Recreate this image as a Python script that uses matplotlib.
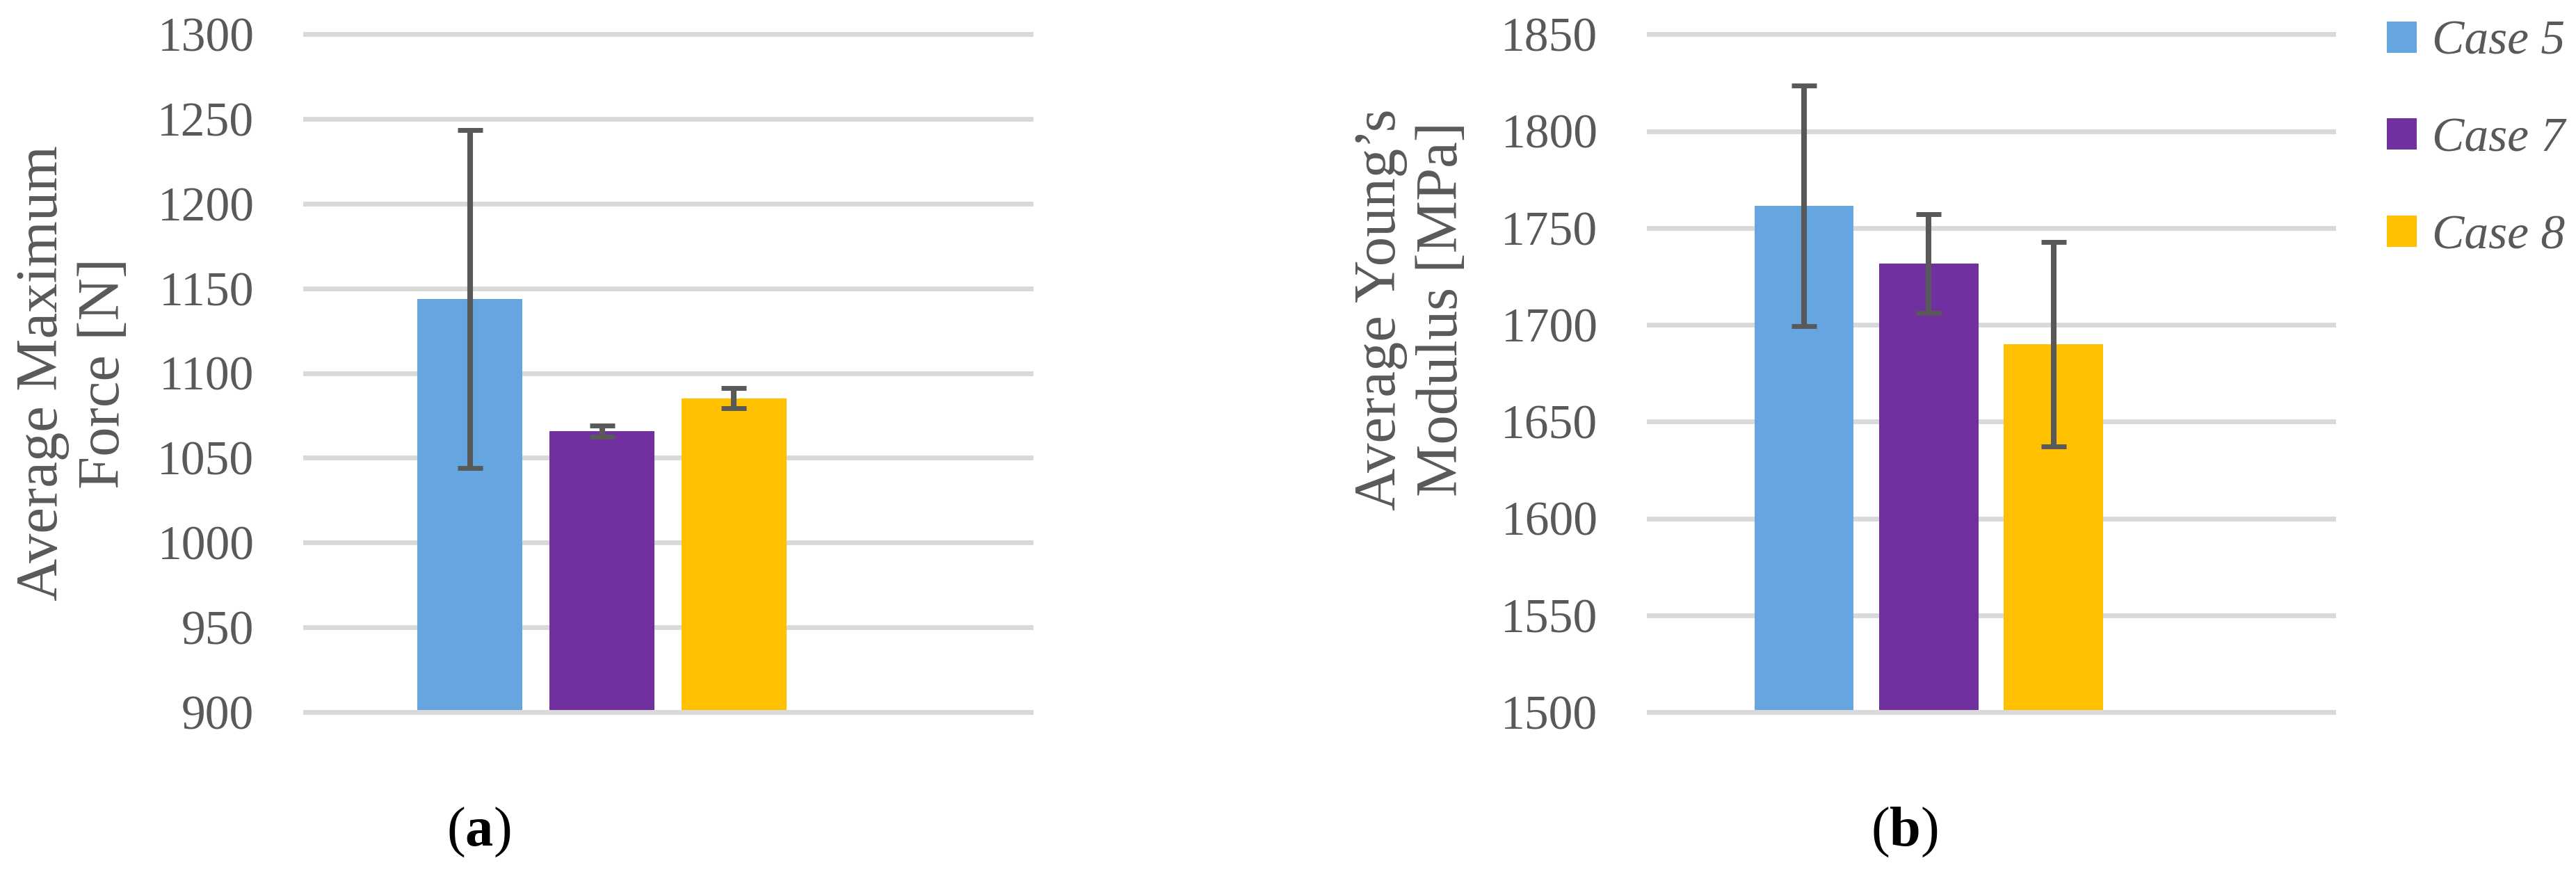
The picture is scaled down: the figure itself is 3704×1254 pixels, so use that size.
import numpy as np
import matplotlib
matplotlib.use("Agg")
import matplotlib.pyplot as plt
from matplotlib.font_manager import FontProperties

# ---------------- data ----------------
series = ["Case 5", "Case 7", "Case 8"]
force_mean = [1143.6, 1065.8, 1085.2]
force_err = [99.7, 3.4, 6.0]
modulus_mean = [1761.4, 1731.5, 1689.9]
modulus_err = [62.0, 25.5, 52.7]
force_ticks = [900, 950, 1000, 1050, 1100, 1150, 1200, 1250, 1300]
modulus_ticks = [1500, 1550, 1600, 1650, 1700, 1750, 1800, 1850]
force_label = "Average Maximum\nForce [N]"
modulus_label = "Average Young\u2019s\nModulus [MPa]"
panel_labels = ["a", "b"]

# ---------------- style ----------------
colors = ["#65A6E0", "#7030A0", "#FFC000"]
GRID = "#D9D9D9"
TXT = "#595959"
SERIF = "Liberation Serif"
n_slots = 4          # the cluster reserves room for four series
bar_w = 0.795
half_span = 2.745

plt.rcParams["font.family"] = [SERIF, "DejaVu Serif"]
plt.rcParams["mathtext.fontset"] = "custom"
plt.rcParams["mathtext.rm"] = SERIF
plt.rcParams["mathtext.bf"] = SERIF + ":bold"

W, H = 3704, 1254
fig = plt.figure(figsize=(W / 100, H / 100), dpi=100)

ax_bottom = 1 - 1024 / H
ax_height = (1024 - 49.3) / H
ax1 = fig.add_axes([439 / W, ax_bottom, (1482 - 439) / W, ax_height])
ax2 = fig.add_axes([2371 / W, ax_bottom, (3355 - 2371) / W, ax_height])


def panel(ax, means, errs, ticks):
    offsets = np.arange(n_slots) - (n_slots - 1) / 2
    handles = []
    for i, (m, e, c, name) in enumerate(zip(means, errs, colors, series)):
        b = ax.bar(offsets[i], m, width=bar_w, color=c, label=name, zorder=2)
        handles.append(b)
        ax.errorbar(offsets[i], m, yerr=e, fmt="none", ecolor=TXT,
                    elinewidth=5.8, capsize=13.3, capthick=5.0, zorder=3)
    ax.set_xlim(-half_span, half_span)
    ax.set_ylim(ticks[0], ticks[-1])
    ax.set_yticks(ticks)
    ax.set_xticks([])
    ax.grid(axis="y", color=GRID, linewidth=5.0)
    ax.set_axisbelow(True)
    for t in ax.yaxis.get_major_ticks():
        t.gridline.set_clip_on(False)
    for s in ["top", "left", "right"]:
        ax.spines[s].set_visible(False)
    ax.spines["bottom"].set_color(GRID)
    ax.spines["bottom"].set_linewidth(5.0)
    ax.spines["bottom"].set_zorder(4)
    ax.tick_params(axis="y", length=0, pad=53, labelsize=50, labelcolor=TXT)
    for lab in ax.get_yticklabels():
        lab.set_fontfamily(SERIF)
    ax.patch.set_alpha(0)
    return handles


h1 = panel(ax1, force_mean, force_err, force_ticks)
h2 = panel(ax2, modulus_mean, modulus_err, modulus_ticks)

# y-axis titles
fig.text(106 / W, 1 - 537 / H, force_label, rotation=90, ha="center", va="center",
         fontsize=61, color=TXT, linespacing=1.2, multialignment="center", family=SERIF)
fig.text(2030 / W, 1 - 445 / H, modulus_label, rotation=90, ha="center", va="center",
         fontsize=61, color=TXT, linespacing=1.2, multialignment="center", family=SERIF)

# panel letters
fig.text(688 / W, 1 - 1197 / H, r"$\mathrm{(}\mathbf{%s}\mathrm{)}$" % panel_labels[0],
         ha="center", va="center", fontsize=58, color="black")
fig.text(2738 / W, 1 - 1197 / H, r"$\mathrm{(}\mathbf{%s}\mathrm{)}$" % panel_labels[1],
         ha="center", va="center", fontsize=58, color="black")

# legend
fig.legend(h2, series, loc="upper left", bbox_to_anchor=(3432 / W, 1 - 29 / H),
           frameon=False, prop=FontProperties(family=SERIF, style="italic", size=50),
           labelcolor=TXT, handlelength=0.62, handleheight=0.62, handletextpad=0.32,
           labelspacing=1.1, borderpad=0, borderaxespad=0)

fig.savefig("out.png", dpi=100, facecolor="white")
